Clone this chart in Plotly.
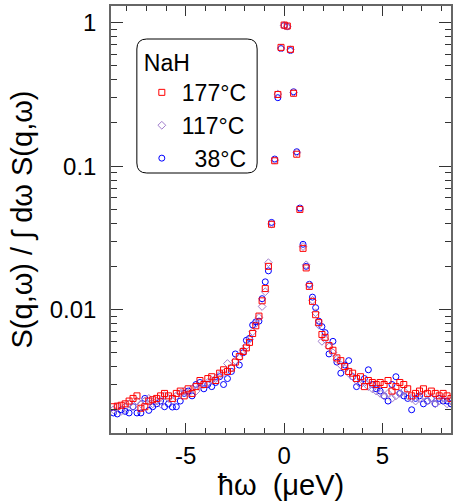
import plotly.graph_objects as go

# Energy transfer (µeV)
omega = [-8.68, -8.48, -8.28, -8.08, -7.88, -7.68, -7.48, -7.28, -7.08, -6.88,
         -6.68, -6.48, -6.28, -6.08, -5.88, -5.68, -5.48, -5.28, -5.08, -4.88,
         -4.68, -4.48, -4.28, -4.08, -3.88, -3.68, -3.48, -3.28, -3.08, -2.88,
         -2.68, -2.48, -2.28, -2.08,
         -1.92, -1.76, -1.60, -1.44, -1.28, -1.12, -0.96, -0.80, -0.64, -0.48,
         -0.32, -0.16, 0.00, 0.16, 0.32, 0.48, 0.64, 0.80, 0.96, 1.12,
         1.28, 1.44, 1.60, 1.76, 1.92,
         2.08, 2.28, 2.48, 2.68, 2.88, 3.08, 3.28, 3.48, 3.68, 3.88,
         4.08, 4.28, 4.48, 4.68, 4.88, 5.08, 5.28, 5.48, 5.68, 5.88,
         6.08, 6.28, 6.48, 6.68, 6.88, 7.08, 7.28, 7.48, 7.68, 7.88,
         8.08, 8.28, 8.48]

s_177 = [0.0021, 0.00212, 0.00215, 0.0022, 0.0023, 0.0024, 0.0025, 0.00205, 0.0021, 0.0023,
         0.00235, 0.0024, 0.0025, 0.0026, 0.0025, 0.0024, 0.0026, 0.0027, 0.0025, 0.0028,
         0.0026, 0.0029, 0.0032, 0.0030, 0.0033, 0.0034, 0.0032, 0.0036, 0.0038, 0.0037,
         0.0039, 0.0043, 0.0047, 0.0051,
         0.0054, 0.0059, 0.0068, 0.0077, 0.0090, 0.0115, 0.0140, 0.0200, 0.0393, 0.109,
         0.316, 0.673, 0.963, 0.948, 0.652, 0.322, 0.121, 0.0499, 0.0267, 0.0195,
         0.0145, 0.0114, 0.0092, 0.0081, 0.0067,
         0.0064, 0.0056, 0.0052, 0.0046, 0.0044, 0.0040, 0.0037, 0.0036, 0.0033, 0.0034,
         0.0029, 0.0032, 0.0031, 0.0030, 0.0031, 0.0030, 0.0032, 0.0027, 0.0029, 0.0031,
         0.0030, 0.0028, 0.0025, 0.0026, 0.0027, 0.0028, 0.0026, 0.0027, 0.0026, 0.0025,
         0.0026, 0.0025, 0.0024]

s_117 = [0.0020, 0.0021, 0.00195, 0.0021, 0.0022, 0.0021, 0.0023, 0.0022, 0.0023, 0.0024,
         0.0022, 0.0023, 0.0022, 0.0025, 0.0024, 0.0023, 0.0025, 0.0026, 0.0027, 0.0026,
         0.0028, 0.0027, 0.0029, 0.0030, 0.0031, 0.0032, 0.0033, 0.0035, 0.0036, 0.0042,
         0.0039, 0.0044, 0.0046, 0.0052,
         0.0056, 0.0062, 0.0070, 0.0080, 0.0088, 0.0105, 0.0133, 0.0212, 0.0395, 0.110,
         0.318, 0.665, 0.958, 0.945, 0.648, 0.326, 0.124, 0.0502, 0.0275, 0.0205,
         0.0148, 0.0116, 0.0095, 0.0078, 0.0060,
         0.0062, 0.0055, 0.0050, 0.0045, 0.0041, 0.0039, 0.0036, 0.0034, 0.0032, 0.0030,
         0.0031, 0.0029, 0.0028, 0.0027, 0.0026, 0.0025, 0.0026, 0.0024, 0.0025, 0.0026,
         0.0027, 0.0025, 0.0024, 0.0023, 0.0024, 0.0025, 0.0023, 0.0024, 0.0022, 0.0023,
         0.0024, 0.0022, 0.0023]

s_38 = [0.0019, 0.00187, 0.0020, 0.00195, 0.0019, 0.0021, 0.0019, 0.0019, 0.0024, 0.00198,
        0.0021, 0.0022, 0.0023, 0.0021, 0.0022, 0.00209, 0.0021, 0.0023, 0.0026, 0.0027,
        0.0025, 0.0030, 0.0031, 0.0028, 0.0030, 0.0029, 0.0031, 0.0034, 0.0030, 0.0033,
        0.0037, 0.0049, 0.0041, 0.0050,
        0.0061, 0.0063, 0.0078, 0.0082, 0.0083, 0.0119, 0.0156, 0.0186, 0.0405, 0.112,
        0.300, 0.660, 0.955, 0.940, 0.640, 0.330, 0.126, 0.0510, 0.0285, 0.0200,
        0.0150, 0.0122, 0.0103, 0.0083, 0.0076,
        0.0069, 0.0049, 0.0060, 0.0043, 0.0036, 0.0041, 0.0044, 0.0034, 0.0029, 0.0031,
        0.0033, 0.0038, 0.0030, 0.0028, 0.0027, 0.0025, 0.0023, 0.0030, 0.0034, 0.0026,
        0.0025, 0.0024, 0.0020, 0.0024, 0.0025, 0.0022, 0.0023, 0.0024, 0.0022, 0.0024,
        0.0023, 0.0023, 0.0022]

series_names = ["\u200738°C", "117°C", "177°C"]
series_vals = [s_38, s_117, s_177]
series_colors = ["#0000ff", "#a07ccc", "#ff0000"]
series_symbols = ["circle-open", "diamond-open", "square-open"]

x_ticks = [-5, 0, 5]
x_ticktext = ["-5", "0", "5"]
x_minor = [-8, -7, -6, -4, -3, -2, -1, 1, 2, 3, 4, 6, 7, 8]
y_ticks = [0.01, 0.1, 1]
y_ticktext = ["0.01", "0.1", "1"]
y_minor = [m * d for d in (0.001, 0.01, 0.1) for m in range(2, 10)]

FONT = "Liberation Sans, Arial, sans-serif"

fig = go.Figure()
for name, vals, col, sym in zip(series_names, series_vals, series_colors, series_symbols):
    fig.add_trace(go.Scatter(
        x=omega, y=vals, mode="markers", name=name,
        marker=dict(symbol=sym, size=6, color=col, line=dict(width=1, color=col)),
    ))

W, H = 453, 501
L, R, T, B = 111, 0, 6, 68
pw, ph = W - L - R, H - T - B

def px(x):
    return (x - L) / pw

def py(y):
    return 1 - (y - T) / ph

bx0, bx1, by0, by1 = px(137), px(258), py(173), py(39)
rx, ry = 10 / pw, 10 / ph
path = (f"M {bx0+rx},{by1} L {bx1-rx},{by1} Q {bx1},{by1} {bx1},{by1-ry} "
        f"L {bx1},{by0+ry} Q {bx1},{by0} {bx1-rx},{by0} "
        f"L {bx0+rx},{by0} Q {bx0},{by0} {bx0},{by0+ry} "
        f"L {bx0},{by1-ry} Q {bx0},{by1} {bx0+rx},{by1} Z")

fig.update_layout(
    width=W, height=H,
    margin=dict(l=L, r=R, t=T, b=B, pad=0),
    paper_bgcolor="white", plot_bgcolor="white",
    font=dict(family=FONT, size=24, color="black"),
    showlegend=True,
    legend=dict(
        x=px(142), y=py(41), xanchor="left", yanchor="top",
        bgcolor="rgba(0,0,0,0)", borderwidth=0,
        traceorder="reversed",
        title=dict(text="NaH", font=dict(size=23)),
        font=dict(size=23),
    ),
    shapes=[dict(type="path", path=path, xref="paper", yref="paper",
                 line=dict(color="black", width=1))],
    xaxis=dict(
        range=[-8.8, 8.48], tickmode="array", tickvals=x_ticks, ticktext=x_ticktext,
        ticks="inside", ticklen=10, tickwidth=1, tickcolor="#333",
        showline=True, linecolor="#666", linewidth=1.5, mirror="ticks",
        showgrid=False, zeroline=False,
        minor=dict(tickmode="array", tickvals=x_minor, ticks="inside", ticklen=5,
                   tickwidth=1, tickcolor="#333", showgrid=False),
        title=dict(text="\u0127\u03c9  (\u03bceV)", standoff=10),
        tickfont=dict(size=24),
    ),
    yaxis=dict(
        type="log", range=[-2.861, 0.1165], tickmode="array",
        tickvals=y_ticks, ticktext=y_ticktext,
        ticks="inside", ticklen=12, tickwidth=1, tickcolor="#333",
        showline=True, linecolor="#666", linewidth=1.5, mirror="ticks",
        showgrid=False, zeroline=False,
        minor=dict(tickmode="array", tickvals=y_minor, ticks="inside", ticklen=6,
                   tickwidth=1, tickcolor="#333", showgrid=False),
        title=dict(text="S(q,\u03c9) / \u222b d\u03c9 S(q,\u03c9)", standoff=9),
        tickfont=dict(size=24),
        ticklabelstandoff=8,
    ),
)

fig.write_html("out.html", config={"displayModeBar": False},
               post_script="document.body.style.margin='0';")
